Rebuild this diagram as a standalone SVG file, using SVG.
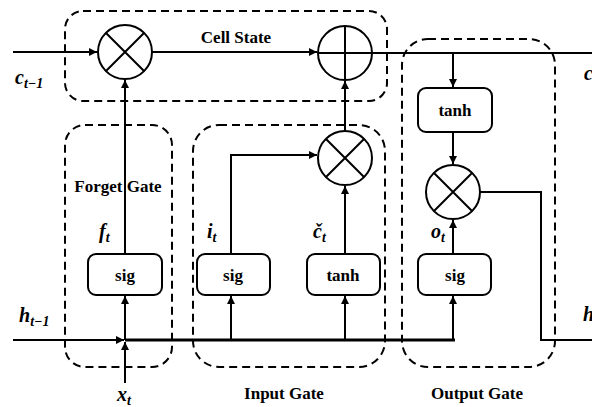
<svg xmlns="http://www.w3.org/2000/svg" width="592" height="407" viewBox="0 0 592 407">
<defs>
<marker id="arr" viewBox="0 0 10 10" refX="10" refY="5" markerWidth="4" markerHeight="4" orient="auto" markerUnits="strokeWidth">
<path d="M0,0 L10,5 L0,10 z" fill="#000"/>
</marker>
<style>
.dash{fill:none;stroke:#000;stroke-width:2;stroke-dasharray:8,5}
.box{fill:#fff;stroke:#000;stroke-width:2}
.op{fill:#fff;stroke:#000;stroke-width:2}
.ln{fill:none;stroke:#000;stroke-width:2}
.thick{fill:none;stroke:#000;stroke-width:3.2}
.t{font-family:"Liberation Serif","Times New Roman",serif;font-weight:bold;font-size:17px;text-anchor:middle}
.m{font-family:"Liberation Serif","Times New Roman",serif;font-weight:bold;font-style:italic;font-size:20px}
.s{font-size:14px}
</style>
</defs>
<rect width="592" height="407" fill="#fff"/>
<g id="groups">
<rect id="cellstate" class="dash" x="65" y="11" width="322" height="90" rx="18"/>
<rect id="forgetgate" class="dash" x="65" y="125" width="107" height="242" rx="20"/>
<rect id="inputgate" class="dash" x="193" y="125" width="192" height="242" rx="26"/>
<rect id="outputgate" class="dash" x="402" y="39" width="153" height="328" rx="26"/>
</g>
<g id="connectors">
<path class="ln" d="M13,52 H97" marker-end="url(#arr)"/>
<path class="ln" d="M152,52 H317" marker-end="url(#arr)"/>
<path class="ln" d="M372,53 H592"/>
<path class="ln" d="M453,53 V87" marker-end="url(#arr)"/>
<path class="ln" d="M453,132 V164" marker-end="url(#arr)"/>
<path class="ln" d="M480,192 H541 V340 H592"/>
<path class="ln" d="M125,254 V80" marker-end="url(#arr)"/>
<path class="ln" d="M231,254 V155 H317" marker-end="url(#arr)"/>
<path class="ln" d="M345,254 V186" marker-end="url(#arr)"/>
<path class="ln" d="M345,131 V81" marker-end="url(#arr)"/>
<path class="ln" d="M453,254 V220" marker-end="url(#arr)"/>
<path class="ln" d="M13,340 H124" marker-end="url(#arr)"/>
<path class="thick" d="M125,340 H455"/>
<path class="ln" d="M125,383 V342" marker-end="url(#arr)"/>
<path class="ln" d="M125,340 V296" marker-end="url(#arr)"/>
<path class="ln" d="M231,340 V296" marker-end="url(#arr)"/>
<path class="ln" d="M345,340 V296" marker-end="url(#arr)"/>
<path class="ln" d="M453,340 V296" marker-end="url(#arr)"/>
</g>
<g id="mul_forget">
<circle class="op" cx="125" cy="52" r="27"/>
<path class="ln" d="M106,33 L144,71 M144,33 L106,71"/>
</g>
<g id="add_cell">
<circle class="op" cx="345" cy="53" r="27"/>
<path class="ln" d="M345,26 V80 M318,53 H372"/>
</g>
<g id="mul_input">
<circle class="op" cx="345" cy="158" r="27"/>
<path class="ln" d="M326,139 L364,177 M364,139 L326,177"/>
</g>
<g id="mul_output">
<circle class="op" cx="453" cy="192" r="27"/>
<path class="ln" d="M434,173 L472,211 M472,173 L434,211"/>
</g>
<g id="tanh_out">
<rect class="box" x="418" y="88" width="74" height="44" rx="8"/>
<text class="t" x="455" y="116">tanh</text>
</g>
<g id="sig_forget">
<rect class="box" x="88" y="254" width="74" height="41" rx="8"/>
<text class="t" x="125" y="281">sig</text>
</g>
<g id="sig_input">
<rect class="box" x="197" y="254" width="73" height="41" rx="8"/>
<text class="t" x="233" y="281">sig</text>
</g>
<g id="tanh_input">
<rect class="box" x="307" y="254" width="73" height="41" rx="8"/>
<text class="t" x="343" y="281">tanh</text>
</g>
<g id="sig_output">
<rect class="box" x="418" y="254" width="73" height="41" rx="8"/>
<text class="t" x="455" y="281">sig</text>
</g>
<g id="labels">
<text class="t" x="236" y="43">Cell State</text>
<text class="t" x="118" y="192">Forget Gate</text>
<text class="t" x="284" y="399">Input Gate</text>
<text class="t" x="477" y="399">Output Gate</text>
<text class="m" x="15" y="84">c<tspan class="s" dy="4">t−1</tspan></text>
<text class="m" x="584" y="80">c</text>
<text class="m" x="19" y="322">h<tspan class="s" dy="4">t−1</tspan></text>
<text class="m" x="583" y="321">h</text>
<text class="m" x="117" y="401">x<tspan class="s" dy="4">t</tspan></text>
<text class="m" x="99" y="238">f<tspan class="s" dy="4">t</tspan></text>
<text class="m" x="207" y="238">i<tspan class="s" dy="4">t</tspan></text>
<text class="m" x="313" y="238">č<tspan class="s" dy="4">t</tspan></text>
<text class="m" x="431" y="238">o<tspan class="s" dy="4">t</tspan></text>
</g>
</svg>
